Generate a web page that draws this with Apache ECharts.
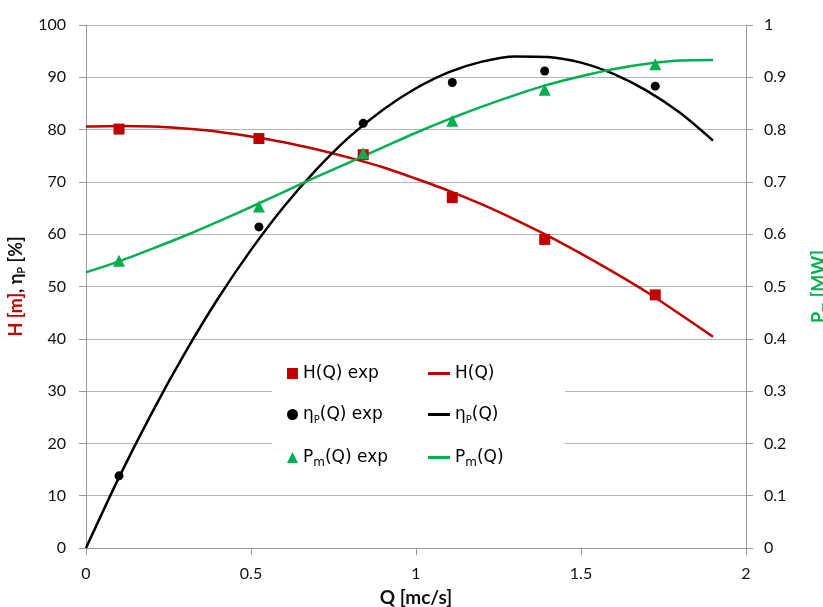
<!DOCTYPE html>
<html>
<head>
<meta charset="utf-8">
<script src="https://cdn.jsdelivr.net/npm/echarts@6/dist/echarts.min.js"></script>
<style>
  html, body { margin: 0; padding: 0; background: #fff; }
  #chart { width: 823px; height: 607px; }
</style>
</head>
<body>
<div id="chart"></div>
<script>
// Measured pump points (flow in mc/s)
const qExp = [0.10, 0.524, 0.84, 1.11, 1.39, 1.725];
const headExp = [80.1, 78.3, 75.2, 67.0, 59.0, 48.4];      // m
const effExp = [13.8, 61.4, 81.2, 89.0, 91.2, 88.3];       // %
const powerExp = [0.549, 0.653, 0.755, 0.817, 0.876, 0.925]; // MW

// Fitted characteristic curves
const qFit = [0, 0.1, 0.2, 0.3, 0.4, 0.5, 0.6, 0.7, 0.8, 0.9, 1.0,
              1.1, 1.2, 1.3, 1.4, 1.5, 1.6, 1.7, 1.8, 1.9];
const headFit = [80.6, 80.7, 80.6, 80.2, 79.6, 78.7, 77.6, 76.2, 74.6, 72.8, 70.6,
                 68.3, 65.7, 62.8, 59.7, 56.3, 52.7, 48.9, 44.7, 40.4];
const effFit = [0, 13.5, 25.9, 37.3, 47.7, 57.0, 65.3, 72.5, 78.7, 83.8, 87.9,
                91.0, 93.0, 94.0, 93.9, 92.8, 90.6, 87.4, 83.2, 77.9];
const powerFit = [0.527, 0.548, 0.572, 0.597, 0.624, 0.652, 0.681, 0.710, 0.738, 0.766, 0.794,
                  0.820, 0.844, 0.866, 0.886, 0.902, 0.916, 0.926, 0.932, 0.933];

const xTicks = { min: 0, max: 2, step: 0.5 };
const leftTicks = { min: 0, max: 100, step: 10 };
const rightTicks = { min: 0, max: 1, step: 0.1 };

// Legend entries: [marker series, fitted-curve series, marker icon]
const legendRows = [
  ['H(Q) exp', 'H(Q)', 'rect'],
  ['ηP(Q) exp', 'ηP(Q)', 'circle'],
  ['Pm(Q) exp', 'Pm(Q)', 'triangle']
];

const RED = '#C00000', GREEN = '#00B050', BLACK = '#000000';
const AXIS_GREY = '#9a9a9a', GRID_GREY = '#b4b4b4';
const AXIS_FONT = 'Lato, "Open Sans", sans-serif';
const LEG_FONT = '"DejaVu Sans", Verdana, sans-serif';

const pairs = (xs, ys) => xs.map((x, i) => [x, ys[i]]);

const legendRich = {
  n: { fontFamily: LEG_FONT, fontSize: 17, color: '#000', lineHeight: 22 },
  sp: { fontFamily: LEG_FONT, fontSize: 10, color: '#000', lineHeight: 16, verticalAlign: 'bottom' },
  sm: { fontFamily: LEG_FONT, fontSize: 12, color: '#000', lineHeight: 14, verticalAlign: 'bottom' }
};
const legendLabel = name => {
  if (name.startsWith('η')) return '{n|η}{sp|P}{n|' + name.slice(2) + '}';
  if (name.startsWith('Pm')) return '{n|P}{sm|m}{n|' + name.slice(2) + '}';
  return '{n|' + name + '}';
};

const rowTops = [365, 406, 449];
const legends = [];
legendRows.forEach((row, i) => {
  legends.push({
    left: 287, top: rowTops[i], padding: 0, itemWidth: 11, itemHeight: 11, z: 5,
    data: [{ name: row[0], icon: row[2] }],
    formatter: legendLabel, textStyle: { rich: legendRich }
  });
  legends.push({
    left: 428, top: rowTops[i], padding: 0, itemWidth: 22, itemHeight: 3, z: 5,
    data: [{ name: row[1], icon: 'rect' }],
    formatter: legendLabel, textStyle: { rich: legendRich }
  });
});

const baseAxis = {
  type: 'value',
  axisLine: { show: true, lineStyle: { color: AXIS_GREY, width: 1 } },
  axisTick: { show: true, inside: false, length: 7, lineStyle: { color: AXIS_GREY } },
  axisLabel: { color: '#111', fontFamily: AXIS_FONT, fontSize: 16 }
};

const chart = echarts.init(document.getElementById('chart'), null, { renderer: 'canvas' });
chart.setOption({
  animation: false,
  backgroundColor: '#fff',
  grid: { left: 86, right: 77, top: 25, bottom: 59, containLabel: false, outerBoundsMode: 'none' },
  graphic: [{
    type: 'rect', z: 1,
    shape: { x: 272, y: 345, width: 293, height: 141 },
    style: { fill: '#fff' }
  }],
  legend: legends,
  xAxis: Object.assign({}, baseAxis, {
    min: xTicks.min, max: xTicks.max, interval: xTicks.step,
    splitLine: { show: false },
    axisLabel: Object.assign({}, baseAxis.axisLabel, { margin: 18 }),
    name: 'Q [mc/s]', nameLocation: 'middle', nameGap: 40,
    nameTextStyle: { fontFamily: AXIS_FONT, fontWeight: 'bold', fontSize: 19, color: '#111' }
  }),
  yAxis: [
    Object.assign({}, baseAxis, {
      min: leftTicks.min, max: leftTicks.max, interval: leftTicks.step,
      splitLine: { show: true, lineStyle: { color: GRID_GREY, width: 1 } },
      axisLabel: Object.assign({}, baseAxis.axisLabel, { margin: 20 }),
      name: '{r|H [m]}{k|, η}{ks|P}{k| [%]}',
      nameLocation: 'middle', nameRotate: 90, nameGap: 56,
      nameTextStyle: {
        rich: {
          r: { color: RED, fontFamily: AXIS_FONT, fontWeight: 'bold', fontSize: 18, lineHeight: 22 },
          k: { color: '#111', fontFamily: AXIS_FONT, fontWeight: 'bold', fontSize: 18, lineHeight: 22 },
          ks: { color: '#111', fontFamily: AXIS_FONT, fontWeight: 'bold', fontSize: 11, lineHeight: 17, verticalAlign: 'bottom' }
        }
      }
    }),
    Object.assign({}, baseAxis, {
      position: 'right',
      min: rightTicks.min, max: rightTicks.max, interval: rightTicks.step,
      splitLine: { show: false },
      axisLabel: Object.assign({}, baseAxis.axisLabel, { margin: 18 }),
      name: '{g|P}{gs|m}{g| [MW]}',
      nameLocation: 'middle', nameRotate: 90, nameGap: 62,
      nameTextStyle: {
        rich: {
          g: { color: GREEN, fontFamily: AXIS_FONT, fontWeight: 'bold', fontSize: 18, lineHeight: 22 },
          gs: { color: GREEN, fontFamily: AXIS_FONT, fontWeight: 'bold', fontSize: 12, lineHeight: 17, verticalAlign: 'bottom' }
        }
      }
    })
  ],
  series: [
    { name: 'H(Q)', type: 'line', smooth: 0.25, showSymbol: false, symbol: 'none', z: 3,
      data: pairs(qFit, headFit), itemStyle: { color: RED }, lineStyle: { color: RED, width: 2.5 } },
    { name: 'ηP(Q)', type: 'line', smooth: 0.25, showSymbol: false, symbol: 'none', z: 3,
      data: pairs(qFit, effFit), itemStyle: { color: BLACK }, lineStyle: { color: BLACK, width: 2.5 } },
    { name: 'Pm(Q)', type: 'line', smooth: 0.25, showSymbol: false, symbol: 'none', z: 3, yAxisIndex: 1,
      data: pairs(qFit, powerFit), itemStyle: { color: GREEN }, lineStyle: { color: GREEN, width: 2.5 } },
    { name: 'H(Q) exp', type: 'scatter', symbol: 'rect', symbolSize: 11, z: 4,
      data: pairs(qExp, headExp), itemStyle: { color: RED, opacity: 1 } },
    { name: 'ηP(Q) exp', type: 'scatter', symbol: 'circle', symbolSize: 9, z: 4,
      data: pairs(qExp, effExp), itemStyle: { color: BLACK, opacity: 1 } },
    { name: 'Pm(Q) exp', type: 'scatter', symbol: 'triangle', symbolSize: 12, z: 4, yAxisIndex: 1,
      data: pairs(qExp, powerExp), itemStyle: { color: GREEN, opacity: 1 } }
  ]
});
</script>
</body>
</html>
